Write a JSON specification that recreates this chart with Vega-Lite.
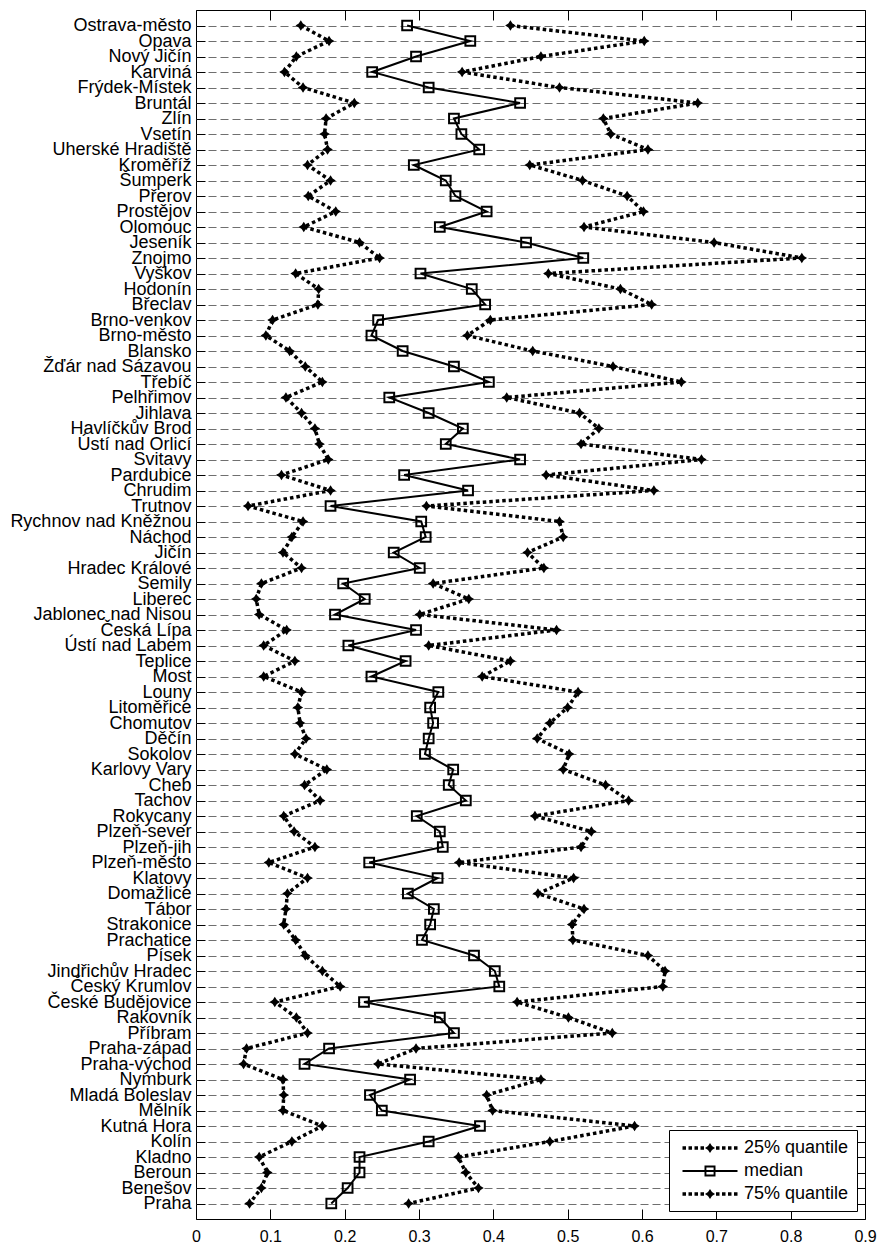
{
  "$schema": "https://vega.github.io/schema/vega-lite/v6.json",
  "width": 669,
  "height": 1209,
  "autosize": "none",
  "padding": {"left": 196, "top": 10, "right": 13, "bottom": 25},
  "background": "white",
  "config": {
    "font": "Liberation Sans",
    "view": {"stroke": "black", "strokeWidth": 1},
    "axis": {"labelColor": "black", "tickColor": "black", "domain": false, "title": null}
  },
  "data": {"values": [
    {"district": "Ostrava-město", "25% quantile": 0.141, "median": 0.284, "75% quantile": 0.423},
    {"district": "Opava", "25% quantile": 0.179, "median": 0.369, "75% quantile": 0.603},
    {"district": "Nový Jičín", "25% quantile": 0.135, "median": 0.296, "75% quantile": 0.464},
    {"district": "Karviná", "25% quantile": 0.119, "median": 0.237, "75% quantile": 0.358},
    {"district": "Frýdek-Místek", "25% quantile": 0.144, "median": 0.313, "75% quantile": 0.489},
    {"district": "Bruntál", "25% quantile": 0.213, "median": 0.436, "75% quantile": 0.675},
    {"district": "Zlín", "25% quantile": 0.175, "median": 0.347, "75% quantile": 0.548},
    {"district": "Vsetín", "25% quantile": 0.173, "median": 0.357, "75% quantile": 0.558},
    {"district": "Uherské Hradiště", "25% quantile": 0.177, "median": 0.381, "75% quantile": 0.608},
    {"district": "Kroměříž", "25% quantile": 0.150, "median": 0.293, "75% quantile": 0.449},
    {"district": "Šumperk", "25% quantile": 0.181, "median": 0.336, "75% quantile": 0.520},
    {"district": "Přerov", "25% quantile": 0.151, "median": 0.349, "75% quantile": 0.580},
    {"district": "Prostějov", "25% quantile": 0.188, "median": 0.391, "75% quantile": 0.602},
    {"district": "Olomouc", "25% quantile": 0.145, "median": 0.328, "75% quantile": 0.522},
    {"district": "Jeseník", "25% quantile": 0.220, "median": 0.444, "75% quantile": 0.697},
    {"district": "Znojmo", "25% quantile": 0.247, "median": 0.521, "75% quantile": 0.815},
    {"district": "Vyškov", "25% quantile": 0.134, "median": 0.302, "75% quantile": 0.474},
    {"district": "Hodonín", "25% quantile": 0.165, "median": 0.371, "75% quantile": 0.571},
    {"district": "Břeclav", "25% quantile": 0.164, "median": 0.389, "75% quantile": 0.613},
    {"district": "Brno-venkov", "25% quantile": 0.103, "median": 0.245, "75% quantile": 0.396},
    {"district": "Brno-město", "25% quantile": 0.094, "median": 0.236, "75% quantile": 0.365},
    {"district": "Blansko", "25% quantile": 0.126, "median": 0.278, "75% quantile": 0.453},
    {"district": "Žďár nad Sázavou", "25% quantile": 0.147, "median": 0.347, "75% quantile": 0.561},
    {"district": "Třebíč", "25% quantile": 0.170, "median": 0.394, "75% quantile": 0.653},
    {"district": "Pelhřimov", "25% quantile": 0.121, "median": 0.260, "75% quantile": 0.418},
    {"district": "Jihlava", "25% quantile": 0.142, "median": 0.313, "75% quantile": 0.516},
    {"district": "Havlíčkův Brod", "25% quantile": 0.160, "median": 0.359, "75% quantile": 0.542},
    {"district": "Ústí nad Orlicí", "25% quantile": 0.166, "median": 0.336, "75% quantile": 0.518},
    {"district": "Svitavy", "25% quantile": 0.178, "median": 0.436, "75% quantile": 0.680},
    {"district": "Pardubice", "25% quantile": 0.115, "median": 0.280, "75% quantile": 0.471},
    {"district": "Chrudim", "25% quantile": 0.181, "median": 0.366, "75% quantile": 0.616},
    {"district": "Trutnov", "25% quantile": 0.070, "median": 0.181, "75% quantile": 0.310},
    {"district": "Rychnov nad Kněžnou", "25% quantile": 0.144, "median": 0.303, "75% quantile": 0.489},
    {"district": "Náchod", "25% quantile": 0.129, "median": 0.309, "75% quantile": 0.494},
    {"district": "Jičín", "25% quantile": 0.117, "median": 0.266, "75% quantile": 0.446},
    {"district": "Hradec Králové", "25% quantile": 0.142, "median": 0.301, "75% quantile": 0.468},
    {"district": "Semily", "25% quantile": 0.088, "median": 0.198, "75% quantile": 0.319},
    {"district": "Liberec", "25% quantile": 0.081, "median": 0.227, "75% quantile": 0.367},
    {"district": "Jablonec nad Nisou", "25% quantile": 0.085, "median": 0.187, "75% quantile": 0.301},
    {"district": "Česká Lípa", "25% quantile": 0.122, "median": 0.296, "75% quantile": 0.485},
    {"district": "Ústí nad Labem", "25% quantile": 0.091, "median": 0.205, "75% quantile": 0.313},
    {"district": "Teplice", "25% quantile": 0.133, "median": 0.282, "75% quantile": 0.423},
    {"district": "Most", "25% quantile": 0.091, "median": 0.236, "75% quantile": 0.385},
    {"district": "Louny", "25% quantile": 0.142, "median": 0.326, "75% quantile": 0.514},
    {"district": "Litoměřice", "25% quantile": 0.137, "median": 0.315, "75% quantile": 0.500},
    {"district": "Chomutov", "25% quantile": 0.140, "median": 0.319, "75% quantile": 0.476},
    {"district": "Děčín", "25% quantile": 0.148, "median": 0.313, "75% quantile": 0.459},
    {"district": "Sokolov", "25% quantile": 0.133, "median": 0.308, "75% quantile": 0.502},
    {"district": "Karlovy Vary", "25% quantile": 0.176, "median": 0.346, "75% quantile": 0.494},
    {"district": "Cheb", "25% quantile": 0.146, "median": 0.340, "75% quantile": 0.551},
    {"district": "Tachov", "25% quantile": 0.167, "median": 0.363, "75% quantile": 0.582},
    {"district": "Rokycany", "25% quantile": 0.118, "median": 0.297, "75% quantile": 0.456},
    {"district": "Plzeň-sever", "25% quantile": 0.132, "median": 0.328, "75% quantile": 0.532},
    {"district": "Plzeň-jih", "25% quantile": 0.160, "median": 0.332, "75% quantile": 0.518},
    {"district": "Plzeň-město", "25% quantile": 0.098, "median": 0.233, "75% quantile": 0.354},
    {"district": "Klatovy", "25% quantile": 0.150, "median": 0.325, "75% quantile": 0.508},
    {"district": "Domažlice", "25% quantile": 0.123, "median": 0.285, "75% quantile": 0.460},
    {"district": "Tábor", "25% quantile": 0.121, "median": 0.320, "75% quantile": 0.522},
    {"district": "Strakonice", "25% quantile": 0.118, "median": 0.315, "75% quantile": 0.506},
    {"district": "Prachatice", "25% quantile": 0.134, "median": 0.304, "75% quantile": 0.507},
    {"district": "Písek", "25% quantile": 0.147, "median": 0.374, "75% quantile": 0.608},
    {"district": "Jindřichův Hradec", "25% quantile": 0.170, "median": 0.402, "75% quantile": 0.631},
    {"district": "Český Krumlov", "25% quantile": 0.194, "median": 0.408, "75% quantile": 0.628},
    {"district": "České Budějovice", "25% quantile": 0.106, "median": 0.226, "75% quantile": 0.432},
    {"district": "Rakovník", "25% quantile": 0.135, "median": 0.328, "75% quantile": 0.501},
    {"district": "Příbram", "25% quantile": 0.150, "median": 0.347, "75% quantile": 0.560},
    {"district": "Praha-západ", "25% quantile": 0.068, "median": 0.179, "75% quantile": 0.296},
    {"district": "Praha-východ", "25% quantile": 0.064, "median": 0.146, "75% quantile": 0.245},
    {"district": "Nymburk", "25% quantile": 0.117, "median": 0.288, "75% quantile": 0.464},
    {"district": "Mladá Boleslav", "25% quantile": 0.118, "median": 0.234, "75% quantile": 0.391},
    {"district": "Mělník", "25% quantile": 0.117, "median": 0.250, "75% quantile": 0.399},
    {"district": "Kutná Hora", "25% quantile": 0.170, "median": 0.382, "75% quantile": 0.590},
    {"district": "Kolín", "25% quantile": 0.129, "median": 0.313, "75% quantile": 0.476},
    {"district": "Kladno", "25% quantile": 0.085, "median": 0.220, "75% quantile": 0.353},
    {"district": "Beroun", "25% quantile": 0.096, "median": 0.220, "75% quantile": 0.363},
    {"district": "Benešov", "25% quantile": 0.088, "median": 0.204, "75% quantile": 0.380},
    {"district": "Praha", "25% quantile": 0.072, "median": 0.182, "75% quantile": 0.286}
  ]},
  "transform": [{"fold": ["25% quantile", "median", "75% quantile"], "as": ["series", "value"]}],
  "layer": [
    {
      "transform": [{"filter": "datum.series !== 'median'"}],
      "mark": {"type": "line", "color": "black", "strokeWidth": 3.5, "strokeDash": [3.5, 3], "strokeCap": "butt"},
      "encoding": {
        "x": {"field": "value", "type": "quantitative", "scale": {"domain": [0, 0.9], "nice": false, "zero": false},
          "axis": {"orient": "bottom", "values": [0, 0.1, 0.2, 0.3, 0.4, 0.5, 0.6, 0.7, 0.8, 0.9], "format": "~g", "labelFontSize": 16, "labelFont": "Liberation Sans", "tickSize": -10, "labelPadding": 19, "grid": false, "labelFlush": false}},
        "y": {"field": "district", "type": "nominal", "sort": null, "scale": {"type": "point", "padding": 1},
          "axis": {"orient": "left", "labelFontSize": 18, "labelFont": "Liberation Sans", "tickSize": -9, "labelPadding": 14, "labelOverlap": false, "labelLimit": 300, "grid": true, "gridDash": [8, 4], "gridColor": "#6f6f6f", "gridWidth": 1.2}},
        "detail": {"field": "series"}
      }
    },
    {
      "transform": [{"filter": "datum.series === 'median'"}],
      "mark": {"type": "line", "color": "black", "strokeWidth": 2},
      "encoding": {
        "x": {"field": "value", "type": "quantitative", "scale": {"domain": [0, 0.9], "nice": false, "zero": false},
          "axis": {"orient": "top", "values": [0, 0.1, 0.2, 0.3, 0.4, 0.5, 0.6, 0.7, 0.8, 0.9], "labels": false, "tickSize": -10, "grid": false}},
        "y": {"field": "district", "type": "nominal", "sort": null, "scale": {"type": "point", "padding": 1},
          "axis": {"orient": "right", "labels": false, "tickSize": -9, "grid": false}}
      }
    },
    {
      "transform": [{"filter": "datum.series !== 'median'"}],
      "mark": {"type": "point", "shape": "M0,-1L0.4,-0.4L1,0L0.4,0.4L0,1L-0.4,0.4L-1,0L-0.4,-0.4Z", "filled": true, "color": "black", "size": 110, "opacity": 1},
      "encoding": {
        "x": {"field": "value", "type": "quantitative", "scale": {"domain": [0, 0.9], "nice": false, "zero": false}, "axis": null},
        "y": {"field": "district", "type": "nominal", "sort": null, "scale": {"type": "point", "padding": 1}, "axis": null}
      }
    },
    {
      "transform": [{"filter": "datum.series === 'median'"}],
      "mark": {"type": "point", "shape": "square", "filled": false, "color": "black", "strokeWidth": 2, "size": 95, "opacity": 1},
      "encoding": {
        "x": {"field": "value", "type": "quantitative", "scale": {"domain": [0, 0.9], "nice": false, "zero": false}, "axis": null},
        "y": {"field": "district", "type": "nominal", "sort": null, "scale": {"type": "point", "padding": 1}, "axis": null}
      }
    },
    {
      "mark": {"type": "point", "filled": true, "color": "black", "opacity": 0},
      "encoding": {
        "x": {"field": "value", "type": "quantitative", "scale": {"domain": [0, 0.9], "nice": false, "zero": false}, "axis": null},
        "y": {"field": "district", "type": "nominal", "sort": null, "scale": {"type": "point", "padding": 1}, "axis": null},
        "shape": {"field": "series", "type": "nominal",
          "scale": {"domain": ["25% quantile", "median", "75% quantile"],
            "range": [
              "M-2.75,-0.175H-2.4V0.175H-2.75Z M-2.15,-0.175H-1.8V0.175H-2.15Z M-1.55,-0.175H-1.2V0.175H-1.55Z M-0.95,-0.175H-0.6V0.175H-0.95Z M0.6,-0.175H0.95V0.175H0.6Z M1.2,-0.175H1.55V0.175H1.2Z M1.8,-0.175H2.15V0.175H1.8Z M2.4,-0.175H2.75V0.175H2.4Z M0,-0.5L0.2,-0.2L0.5,0L0.2,0.2L0,0.5L-0.2,0.2L-0.5,0L-0.2,-0.2Z",
              "M-2.75,-0.1H2.75V0.1H-2.75Z M-0.55,-0.55H0.55V0.55H-0.55Z M-0.36,-0.36V0.36H0.36V-0.36Z",
              "M-2.75,-0.175H-2.4V0.175H-2.75Z M-2.15,-0.175H-1.8V0.175H-2.15Z M-1.55,-0.175H-1.2V0.175H-1.55Z M-0.95,-0.175H-0.6V0.175H-0.95Z M0.6,-0.175H0.95V0.175H0.6Z M1.2,-0.175H1.55V0.175H1.2Z M1.8,-0.175H2.15V0.175H1.8Z M2.4,-0.175H2.75V0.175H2.4Z M0,-0.5L0.2,-0.2L0.5,0L0.2,0.2L0,0.5L-0.2,0.2L-0.5,0L-0.2,-0.2Z"
            ]},
          "legend": {"title": null, "orient": "bottom-right", "offset": 8, "padding": 8, "strokeColor": "black", "fillColor": "white",
            "symbolSize": 400, "symbolOffset": 23, "labelOffset": 24, "rowPadding": 4, "symbolFillColor": "black", "symbolStrokeColor": "black", "symbolStrokeWidth": 0, "symbolOpacity": 1,
            "labelFontSize": 18, "labelFont": "Liberation Sans", "labelColor": "black", "labelLimit": 300}
        }
      }
    }
  ]
}
